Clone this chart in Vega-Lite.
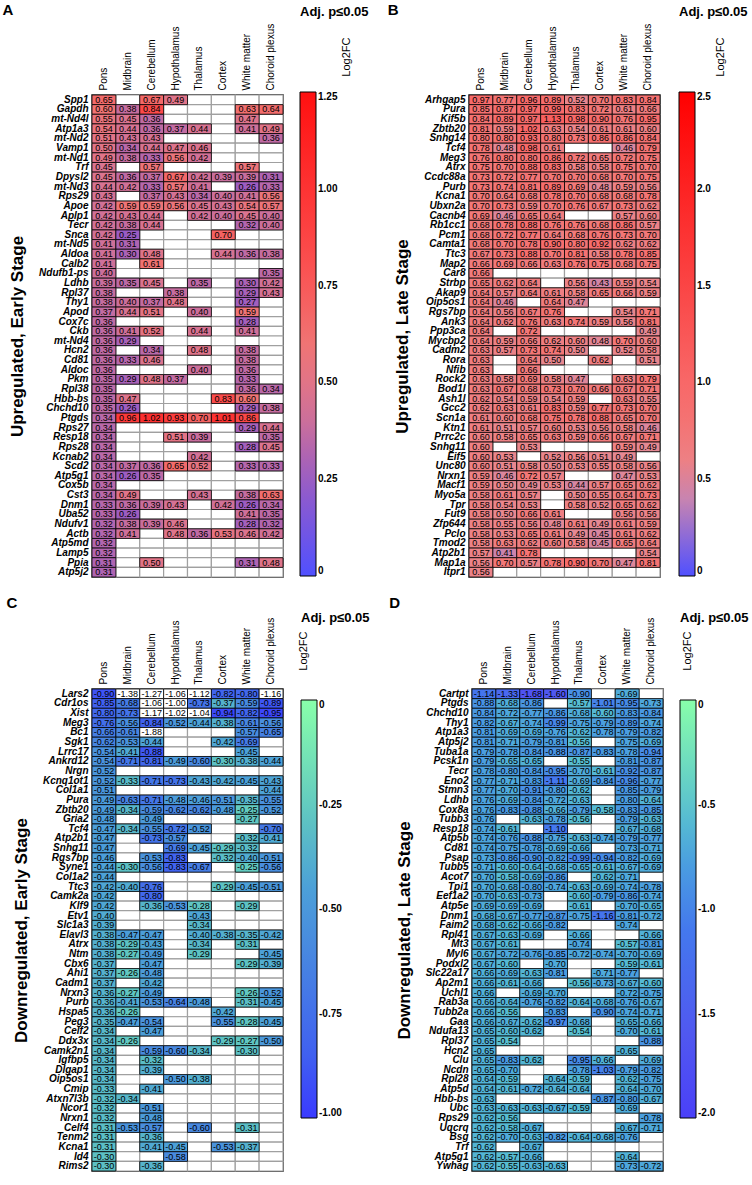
{
  "$schema": "https://vega.github.io/schema/vega-lite/v6.json",
  "padding": {"left": 1, "top": 2, "right": 0, "bottom": 0},
  "datasets": {
    "early_up": [
      {"g":"Spp1","Pons":0.65,"Cerebellum":0.67,"Hypothalamus":0.49},
      {"g":"Gapdh","Pons":0.60,"Midbrain":0.38,"Cerebellum":0.84,"White matter":0.63,"Choroid plexus":0.64},
      {"g":"mt-Nd4l","Pons":0.55,"Midbrain":0.45,"Cerebellum":0.36,"White matter":0.47},
      {"g":"Atp1a3","Pons":0.54,"Midbrain":0.44,"Cerebellum":0.36,"Hypothalamus":0.37,"Thalamus":0.44,"White matter":0.41,"Choroid plexus":0.49},
      {"g":"mt-Nd2","Pons":0.51,"Midbrain":0.43,"Cerebellum":0.43,"Choroid plexus":0.36},
      {"g":"Vamp1","Pons":0.50,"Midbrain":0.34,"Cerebellum":0.44,"Hypothalamus":0.47,"Thalamus":0.46},
      {"g":"mt-Nd1","Pons":0.49,"Midbrain":0.38,"Cerebellum":0.33,"Hypothalamus":0.56,"Thalamus":0.42},
      {"g":"Trf","Pons":0.45,"Cerebellum":0.57,"White matter":0.57},
      {"g":"Dpysl2","Pons":0.45,"Midbrain":0.36,"Cerebellum":0.37,"Hypothalamus":0.67,"Thalamus":0.42,"Cortex":0.39,"White matter":0.39,"Choroid plexus":0.31},
      {"g":"mt-Nd3","Pons":0.44,"Midbrain":0.42,"Cerebellum":0.33,"Hypothalamus":0.57,"Thalamus":0.41,"White matter":0.26,"Choroid plexus":0.33},
      {"g":"Rps29","Pons":0.43,"Cerebellum":0.37,"Hypothalamus":0.43,"Thalamus":0.34,"Cortex":0.40,"White matter":0.41,"Choroid plexus":0.56},
      {"g":"Apoe","Pons":0.42,"Midbrain":0.59,"Cerebellum":0.59,"Hypothalamus":0.56,"Thalamus":0.45,"Cortex":0.43,"White matter":0.54,"Choroid plexus":0.57},
      {"g":"Aplp1","Pons":0.42,"Midbrain":0.43,"Cerebellum":0.44,"Thalamus":0.42,"Cortex":0.40,"White matter":0.45,"Choroid plexus":0.40},
      {"g":"Tecr","Pons":0.42,"Midbrain":0.38,"Cerebellum":0.44,"White matter":0.32,"Choroid plexus":0.40},
      {"g":"Snca","Pons":0.42,"Midbrain":0.25,"Cortex":0.70},
      {"g":"mt-Nd5","Pons":0.41,"Midbrain":0.31},
      {"g":"Aldoa","Pons":0.41,"Midbrain":0.30,"Cerebellum":0.48,"Cortex":0.44,"White matter":0.36,"Choroid plexus":0.38},
      {"g":"Calb2","Pons":0.41,"Cerebellum":0.61},
      {"g":"Ndufb1-ps","Pons":0.40,"Choroid plexus":0.35},
      {"g":"Ldhb","Pons":0.39,"Midbrain":0.35,"Cerebellum":0.45,"Thalamus":0.35,"White matter":0.30,"Choroid plexus":0.42},
      {"g":"Rpl37","Pons":0.38,"Hypothalamus":0.38,"White matter":0.29,"Choroid plexus":0.43},
      {"g":"Thy1","Pons":0.38,"Midbrain":0.40,"Cerebellum":0.37,"Hypothalamus":0.48,"White matter":0.27},
      {"g":"Apod","Pons":0.37,"Midbrain":0.44,"Cerebellum":0.51,"Thalamus":0.40,"White matter":0.59},
      {"g":"Cox7c","Pons":0.36,"White matter":0.28},
      {"g":"Ckb","Pons":0.36,"Midbrain":0.41,"Cerebellum":0.52,"Thalamus":0.44,"White matter":0.41},
      {"g":"mt-Nd4","Pons":0.36,"Midbrain":0.29},
      {"g":"Hcn2","Pons":0.36,"Cerebellum":0.34,"Thalamus":0.48,"White matter":0.38},
      {"g":"Cd81","Pons":0.36,"Midbrain":0.33,"Cerebellum":0.46,"White matter":0.38},
      {"g":"Aldoc","Pons":0.36,"Thalamus":0.40,"White matter":0.36},
      {"g":"Pkm","Pons":0.35,"Midbrain":0.29,"Cerebellum":0.48,"Hypothalamus":0.37,"White matter":0.33},
      {"g":"Rpl38","Pons":0.35,"White matter":0.36,"Choroid plexus":0.34},
      {"g":"Hbb-bs","Pons":0.35,"Midbrain":0.47,"Cortex":0.83,"White matter":0.60},
      {"g":"Chchd10","Pons":0.35,"Midbrain":0.26,"White matter":0.29,"Choroid plexus":0.38},
      {"g":"Ptgds","Pons":0.34,"Midbrain":0.96,"Cerebellum":1.02,"Hypothalamus":0.93,"Thalamus":0.70,"Cortex":1.01,"White matter":0.86},
      {"g":"Rps27","Pons":0.34,"White matter":0.29,"Choroid plexus":0.44},
      {"g":"Resp18","Pons":0.34,"Hypothalamus":0.51,"Thalamus":0.39,"Choroid plexus":0.35},
      {"g":"Rps28","Pons":0.34,"White matter":0.28,"Choroid plexus":0.45},
      {"g":"Kcnab2","Pons":0.34,"Thalamus":0.42},
      {"g":"Scd2","Pons":0.34,"Midbrain":0.37,"Cerebellum":0.36,"Hypothalamus":0.65,"Thalamus":0.52,"White matter":0.33,"Choroid plexus":0.33},
      {"g":"Atp5g1","Pons":0.34,"Midbrain":0.26,"Cerebellum":0.35},
      {"g":"Cox5b","Pons":0.34},
      {"g":"Cst3","Pons":0.34,"Midbrain":0.49,"Thalamus":0.43,"White matter":0.38,"Choroid plexus":0.63},
      {"g":"Dnm1","Pons":0.33,"Midbrain":0.36,"Cerebellum":0.39,"Hypothalamus":0.43,"Cortex":0.42,"White matter":0.26,"Choroid plexus":0.34},
      {"g":"Uba52","Pons":0.33,"Midbrain":0.26,"White matter":0.41,"Choroid plexus":0.35},
      {"g":"Ndufv1","Pons":0.32,"Midbrain":0.38,"Cerebellum":0.39,"Hypothalamus":0.46,"White matter":0.28,"Choroid plexus":0.32},
      {"g":"Actb","Pons":0.32,"Midbrain":0.41,"Hypothalamus":0.48,"Thalamus":0.36,"Cortex":0.53,"White matter":0.46,"Choroid plexus":0.42},
      {"g":"Atp5md","Pons":0.32},
      {"g":"Lamp5","Pons":0.32},
      {"g":"Ppia","Pons":0.31,"Cerebellum":0.50,"White matter":0.31,"Choroid plexus":0.48},
      {"g":"Atp5j2","Pons":0.31}
    ],
    "late_up": [
      {"g":"Arhgap5","Pons":0.97,"Midbrain":0.77,"Cerebellum":0.96,"Hypothalamus":0.89,"Thalamus":0.52,"Cortex":0.70,"White matter":0.83,"Choroid plexus":0.84},
      {"g":"Pura","Pons":0.85,"Midbrain":0.87,"Cerebellum":0.97,"Hypothalamus":0.99,"Thalamus":0.83,"Cortex":0.72,"White matter":0.61,"Choroid plexus":0.66},
      {"g":"Kif5b","Pons":0.84,"Midbrain":0.89,"Cerebellum":0.97,"Hypothalamus":1.13,"Thalamus":0.98,"Cortex":0.90,"White matter":0.76,"Choroid plexus":0.95},
      {"g":"Zbtb20","Pons":0.81,"Midbrain":0.59,"Cerebellum":1.02,"Hypothalamus":0.63,"Thalamus":0.54,"Cortex":0.61,"White matter":0.61,"Choroid plexus":0.60},
      {"g":"Snhg14","Pons":0.80,"Midbrain":0.80,"Cerebellum":0.93,"Hypothalamus":0.80,"Thalamus":0.73,"Cortex":0.86,"White matter":0.86,"Choroid plexus":0.84},
      {"g":"Tcf4","Pons":0.78,"Midbrain":0.48,"Cerebellum":0.98,"Hypothalamus":0.61,"White matter":0.46,"Choroid plexus":0.79},
      {"g":"Meg3","Pons":0.76,"Midbrain":0.80,"Cerebellum":0.80,"Hypothalamus":0.86,"Thalamus":0.72,"Cortex":0.65,"White matter":0.72,"Choroid plexus":0.75},
      {"g":"Atrx","Pons":0.75,"Midbrain":0.70,"Cerebellum":0.88,"Hypothalamus":0.83,"Thalamus":0.58,"Cortex":0.58,"White matter":0.75,"Choroid plexus":0.70},
      {"g":"Ccdc88a","Pons":0.73,"Midbrain":0.72,"Cerebellum":0.77,"Hypothalamus":0.70,"Thalamus":0.70,"Cortex":0.68,"White matter":0.70,"Choroid plexus":0.75},
      {"g":"Purb","Pons":0.73,"Midbrain":0.74,"Cerebellum":0.81,"Hypothalamus":0.89,"Thalamus":0.69,"Cortex":0.48,"White matter":0.59,"Choroid plexus":0.56},
      {"g":"Kcna1","Pons":0.70,"Midbrain":0.64,"Cerebellum":0.68,"Hypothalamus":0.78,"Thalamus":0.70,"Cortex":0.68,"White matter":0.68,"Choroid plexus":0.78},
      {"g":"Ubxn2a","Pons":0.70,"Midbrain":0.73,"Cerebellum":0.59,"Hypothalamus":0.70,"Thalamus":0.76,"Cortex":0.67,"White matter":0.73,"Choroid plexus":0.62},
      {"g":"Cacnb4","Pons":0.69,"Midbrain":0.46,"Cerebellum":0.65,"Hypothalamus":0.64,"White matter":0.57,"Choroid plexus":0.60},
      {"g":"Rb1cc1","Pons":0.68,"Midbrain":0.78,"Cerebellum":0.88,"Hypothalamus":0.76,"Thalamus":0.76,"Cortex":0.68,"White matter":0.86,"Choroid plexus":0.57},
      {"g":"Pcm1","Pons":0.68,"Midbrain":0.72,"Cerebellum":0.77,"Hypothalamus":0.64,"Thalamus":0.68,"Cortex":0.76,"White matter":0.73,"Choroid plexus":0.70},
      {"g":"Camta1","Pons":0.68,"Midbrain":0.70,"Cerebellum":0.78,"Hypothalamus":0.90,"Thalamus":0.80,"Cortex":0.92,"White matter":0.62,"Choroid plexus":0.62},
      {"g":"Ttc3","Pons":0.67,"Midbrain":0.73,"Cerebellum":0.88,"Hypothalamus":0.70,"Thalamus":0.81,"Cortex":0.58,"White matter":0.78,"Choroid plexus":0.85},
      {"g":"Map2","Pons":0.66,"Midbrain":0.69,"Cerebellum":0.66,"Hypothalamus":0.63,"Thalamus":0.76,"Cortex":0.75,"White matter":0.68,"Choroid plexus":0.75},
      {"g":"Car8","Pons":0.66},
      {"g":"Strbp","Pons":0.65,"Midbrain":0.62,"Cerebellum":0.64,"Thalamus":0.56,"Cortex":0.43,"White matter":0.59,"Choroid plexus":0.54},
      {"g":"Akap9","Pons":0.64,"Midbrain":0.57,"Cerebellum":0.64,"Hypothalamus":0.61,"Thalamus":0.58,"Cortex":0.65,"White matter":0.66,"Choroid plexus":0.59},
      {"g":"Oip5os1","Pons":0.64,"Midbrain":0.46,"Hypothalamus":0.64,"Thalamus":0.47},
      {"g":"Rgs7bp","Pons":0.64,"Midbrain":0.56,"Cerebellum":0.67,"Hypothalamus":0.76,"White matter":0.54,"Choroid plexus":0.71},
      {"g":"Ank3","Pons":0.64,"Midbrain":0.62,"Cerebellum":0.76,"Hypothalamus":0.63,"Thalamus":0.74,"Cortex":0.59,"White matter":0.56,"Choroid plexus":0.81},
      {"g":"Ppp3ca","Pons":0.64,"Cerebellum":0.72,"Choroid plexus":0.49},
      {"g":"Mycbp2","Pons":0.64,"Midbrain":0.59,"Cerebellum":0.66,"Hypothalamus":0.62,"Thalamus":0.60,"Cortex":0.48,"White matter":0.70,"Choroid plexus":0.60},
      {"g":"Cadm2","Pons":0.63,"Midbrain":0.57,"Cerebellum":0.73,"Hypothalamus":0.74,"Thalamus":0.50,"White matter":0.52,"Choroid plexus":0.58},
      {"g":"Rora","Pons":0.63,"Cerebellum":0.64,"Hypothalamus":0.50,"Cortex":0.62,"Choroid plexus":0.51},
      {"g":"Nfib","Pons":0.63,"Cerebellum":0.66},
      {"g":"Rock2","Pons":0.63,"Midbrain":0.58,"Cerebellum":0.69,"Hypothalamus":0.58,"Thalamus":0.47,"White matter":0.63,"Choroid plexus":0.79},
      {"g":"Bod1l","Pons":0.63,"Midbrain":0.67,"Cerebellum":0.68,"Hypothalamus":0.73,"Thalamus":0.70,"Cortex":0.66,"White matter":0.67,"Choroid plexus":0.71},
      {"g":"Ash1l","Pons":0.62,"Midbrain":0.54,"Cerebellum":0.59,"Hypothalamus":0.54,"Thalamus":0.59,"White matter":0.63,"Choroid plexus":0.55},
      {"g":"Gcc2","Pons":0.62,"Midbrain":0.63,"Cerebellum":0.61,"Hypothalamus":0.83,"Thalamus":0.59,"Cortex":0.77,"White matter":0.73,"Choroid plexus":0.70},
      {"g":"Scn1a","Pons":0.61,"Midbrain":0.60,"Cerebellum":0.68,"Hypothalamus":0.75,"Thalamus":0.78,"Cortex":0.88,"White matter":0.65,"Choroid plexus":0.70},
      {"g":"Ktn1","Pons":0.61,"Midbrain":0.51,"Cerebellum":0.57,"Hypothalamus":0.60,"Thalamus":0.53,"Cortex":0.56,"White matter":0.58,"Choroid plexus":0.46},
      {"g":"Prrc2c","Pons":0.60,"Midbrain":0.58,"Cerebellum":0.65,"Hypothalamus":0.63,"Thalamus":0.59,"Cortex":0.66,"White matter":0.67,"Choroid plexus":0.71},
      {"g":"Snhg11","Pons":0.60,"Cerebellum":0.53,"White matter":0.59,"Choroid plexus":0.49},
      {"g":"Eif5","Pons":0.60,"Midbrain":0.53,"Hypothalamus":0.52,"Thalamus":0.56,"Cortex":0.51,"White matter":0.49},
      {"g":"Unc80","Pons":0.60,"Midbrain":0.51,"Cerebellum":0.58,"Hypothalamus":0.50,"Thalamus":0.53,"Cortex":0.55,"White matter":0.58,"Choroid plexus":0.56},
      {"g":"Nrxn1","Pons":0.59,"Midbrain":0.46,"Cerebellum":0.72,"Hypothalamus":0.57,"White matter":0.47,"Choroid plexus":0.53},
      {"g":"Macf1","Pons":0.59,"Midbrain":0.50,"Cerebellum":0.49,"Hypothalamus":0.53,"Thalamus":0.44,"Cortex":0.57,"White matter":0.65,"Choroid plexus":0.62},
      {"g":"Myo5a","Pons":0.58,"Midbrain":0.61,"Cerebellum":0.57,"Thalamus":0.50,"Cortex":0.55,"White matter":0.64,"Choroid plexus":0.73},
      {"g":"Tpr","Pons":0.58,"Midbrain":0.54,"Cerebellum":0.53,"Thalamus":0.58,"Cortex":0.52,"White matter":0.65,"Choroid plexus":0.62},
      {"g":"Fut9","Pons":0.58,"Midbrain":0.50,"Cerebellum":0.66,"Hypothalamus":0.61,"White matter":0.56,"Choroid plexus":0.56},
      {"g":"Zfp644","Pons":0.58,"Midbrain":0.55,"Cerebellum":0.56,"Hypothalamus":0.48,"Thalamus":0.61,"Cortex":0.49,"White matter":0.61,"Choroid plexus":0.59},
      {"g":"Pclo","Pons":0.58,"Midbrain":0.53,"Cerebellum":0.65,"Hypothalamus":0.61,"Thalamus":0.49,"Cortex":0.45,"White matter":0.61,"Choroid plexus":0.62},
      {"g":"Tmod2","Pons":0.58,"Midbrain":0.63,"Cerebellum":0.62,"Hypothalamus":0.60,"Thalamus":0.58,"Cortex":0.45,"White matter":0.65,"Choroid plexus":0.64},
      {"g":"Atp2b1","Pons":0.57,"Midbrain":0.41,"Cerebellum":0.78,"Choroid plexus":0.54},
      {"g":"Map1a","Pons":0.56,"Midbrain":0.70,"Cerebellum":0.57,"Hypothalamus":0.78,"Thalamus":0.90,"Cortex":0.70,"White matter":0.47,"Choroid plexus":0.81},
      {"g":"Itpr1","Pons":0.56}
    ],
    "early_down": [
      {"g":"Lars2","Pons":-0.90,"Midbrain":-1.38,"Cerebellum":-1.27,"Hypothalamus":-1.06,"Thalamus":-1.12,"Cortex":-0.82,"White matter":-0.80,"Choroid plexus":-1.16},
      {"g":"Cdr1os","Pons":-0.85,"Midbrain":-0.68,"Cerebellum":-1.06,"Hypothalamus":-1.00,"Thalamus":-0.73,"Cortex":-0.37,"White matter":-0.59,"Choroid plexus":-0.89},
      {"g":"Xist","Pons":-0.80,"Midbrain":-0.73,"Cerebellum":-1.17,"Hypothalamus":-1.02,"Thalamus":-1.04,"Cortex":-0.94,"White matter":-0.82,"Choroid plexus":-0.95},
      {"g":"Meg3","Pons":-0.76,"Midbrain":-0.56,"Cerebellum":-0.84,"Hypothalamus":-0.52,"Thalamus":-0.44,"Cortex":-0.38,"White matter":-0.61,"Choroid plexus":-0.56},
      {"g":"Bc1","Pons":-0.66,"Midbrain":-0.61,"Cerebellum":-1.88,"White matter":-0.57,"Choroid plexus":-0.65},
      {"g":"Sgk1","Pons":-0.62,"Midbrain":-0.53,"Cerebellum":-0.44,"Cortex":-0.42,"White matter":-0.69},
      {"g":"Lrrc17","Pons":-0.54,"Midbrain":-0.41,"Cerebellum":-0.88,"White matter":-0.45},
      {"g":"Ankrd12","Pons":-0.54,"Midbrain":-0.71,"Cerebellum":-0.81,"Hypothalamus":-0.49,"Thalamus":-0.60,"Cortex":-0.30,"White matter":-0.38,"Choroid plexus":-0.44},
      {"g":"Nrgn","Pons":-0.52},
      {"g":"Kcnq1ot1","Pons":-0.52,"Midbrain":-0.33,"Cerebellum":-0.71,"Hypothalamus":-0.73,"Thalamus":-0.43,"Cortex":-0.42,"White matter":-0.45,"Choroid plexus":-0.43},
      {"g":"Col1a1","Pons":-0.51,"Choroid plexus":-0.44},
      {"g":"Pura","Pons":-0.49,"Midbrain":-0.63,"Cerebellum":-0.71,"Hypothalamus":-0.48,"Thalamus":-0.46,"Cortex":-0.51,"White matter":-0.35,"Choroid plexus":-0.55},
      {"g":"Zbtb20","Pons":-0.49,"Midbrain":-0.34,"Cerebellum":-0.59,"Hypothalamus":-0.62,"Thalamus":-0.62,"Cortex":-0.48,"White matter":-0.25,"Choroid plexus":-0.52},
      {"g":"Gria2","Pons":-0.48,"Cerebellum":-0.49,"White matter":-0.27},
      {"g":"Tcf4","Pons":-0.47,"Midbrain":-0.34,"Cerebellum":-0.55,"Hypothalamus":-0.72,"Thalamus":-0.52,"Choroid plexus":-0.70},
      {"g":"Atp2b1","Pons":-0.47,"Cerebellum":-0.73,"Hypothalamus":-0.57,"White matter":-0.32,"Choroid plexus":-0.41},
      {"g":"Snhg11","Pons":-0.47,"Hypothalamus":-0.69,"Thalamus":-0.45,"Cortex":-0.29,"White matter":-0.32},
      {"g":"Rgs7bp","Pons":-0.46,"Cerebellum":-0.53,"Hypothalamus":-0.83,"Cortex":-0.32,"White matter":-0.40,"Choroid plexus":-0.51},
      {"g":"Syne1","Pons":-0.44,"Midbrain":-0.30,"Cerebellum":-0.56,"Hypothalamus":-0.83,"Thalamus":-0.67,"White matter":-0.25,"Choroid plexus":-0.56},
      {"g":"Col1a2","Pons":-0.44},
      {"g":"Ttc3","Pons":-0.42,"Midbrain":-0.40,"Cerebellum":-0.76,"Cortex":-0.29,"White matter":-0.45,"Choroid plexus":-0.51},
      {"g":"Camk2a","Pons":-0.42,"Cerebellum":-0.80},
      {"g":"Klf9","Pons":-0.42,"Cerebellum":-0.36,"Hypothalamus":-0.53,"Thalamus":-0.28,"White matter":-0.29},
      {"g":"Etv1","Pons":-0.40,"Thalamus":-0.43},
      {"g":"Slc1a3","Pons":-0.39,"Thalamus":-0.34},
      {"g":"Elavl3","Pons":-0.38,"Midbrain":-0.47,"Cerebellum":-0.47,"Thalamus":-0.40,"Cortex":-0.38,"White matter":-0.35,"Choroid plexus":-0.42},
      {"g":"Atrx","Pons":-0.38,"Midbrain":-0.29,"Cerebellum":-0.43,"Thalamus":-0.34,"White matter":-0.31},
      {"g":"Ntm","Pons":-0.38,"Midbrain":-0.27,"Cerebellum":-0.49,"Thalamus":-0.29,"Choroid plexus":-0.45},
      {"g":"Cbx6","Pons":-0.37,"Cerebellum":-0.47,"White matter":-0.29,"Choroid plexus":-0.39},
      {"g":"Ahi1","Pons":-0.37,"Midbrain":-0.26,"Cerebellum":-0.48},
      {"g":"Cadm1","Pons":-0.37,"Cerebellum":-0.42},
      {"g":"Nrxn3","Pons":-0.36,"Midbrain":-0.27,"Cerebellum":-0.49,"White matter":-0.26,"Choroid plexus":-0.52},
      {"g":"Purb","Pons":-0.36,"Midbrain":-0.41,"Cerebellum":-0.53,"Hypothalamus":-0.64,"Thalamus":-0.48,"White matter":-0.31,"Choroid plexus":-0.45},
      {"g":"Hspa5","Pons":-0.36,"Midbrain":-0.26,"Cortex":-0.42},
      {"g":"Peg3","Pons":-0.35,"Midbrain":-0.47,"Cerebellum":-0.54,"Cortex":-0.55,"White matter":-0.28,"Choroid plexus":-0.45},
      {"g":"Celf2","Pons":-0.34,"Cerebellum":-0.47},
      {"g":"Ddx3x","Pons":-0.34,"Midbrain":-0.26,"Cortex":-0.29,"White matter":-0.27,"Choroid plexus":-0.50},
      {"g":"Camk2n1","Pons":-0.34,"Cerebellum":-0.59,"Hypothalamus":-0.60,"Thalamus":-0.34,"White matter":-0.30},
      {"g":"Igfbp5","Pons":-0.34,"Cerebellum":-0.32},
      {"g":"Dlgap1","Pons":-0.34,"Cerebellum":-0.39},
      {"g":"Oip5os1","Pons":-0.34,"Hypothalamus":-0.50,"Thalamus":-0.38},
      {"g":"Cmip","Pons":-0.33,"Cerebellum":-0.41},
      {"g":"Atxn7l3b","Pons":-0.32,"Midbrain":-0.34},
      {"g":"Ncor1","Pons":-0.32,"Cerebellum":-0.51},
      {"g":"Nrxn1","Pons":-0.32,"Cerebellum":-0.48},
      {"g":"Celf4","Pons":-0.31,"Midbrain":-0.53,"Cerebellum":-0.57,"Thalamus":-0.60,"White matter":-0.31},
      {"g":"Tenm2","Pons":-0.31,"Cerebellum":-0.36},
      {"g":"Kcna1","Pons":-0.31,"Cerebellum":-0.41,"Hypothalamus":-0.45,"Cortex":-0.53,"White matter":-0.37},
      {"g":"Id4","Pons":-0.30,"Hypothalamus":-0.58},
      {"g":"Rims2","Pons":-0.30,"Cerebellum":-0.36}
    ],
    "late_down": [
      {"g":"Cartpt","Pons":-1.14,"Midbrain":-1.33,"Cerebellum":-1.68,"Hypothalamus":-1.60,"Thalamus":-0.90,"White matter":-0.69},
      {"g":"Ptgds","Pons":-0.88,"Midbrain":-0.68,"Cerebellum":-0.86,"Thalamus":-0.57,"Cortex":-1.01,"White matter":-0.95,"Choroid plexus":-0.73},
      {"g":"Chchd10","Pons":-0.84,"Midbrain":-0.72,"Cerebellum":-0.77,"Hypothalamus":-0.86,"Thalamus":-0.68,"Cortex":-0.60,"White matter":-0.83,"Choroid plexus":-0.84},
      {"g":"Thy1","Pons":-0.82,"Midbrain":-0.67,"Cerebellum":-0.74,"Hypothalamus":-0.99,"Thalamus":-0.75,"Cortex":-0.79,"White matter":-0.89,"Choroid plexus":-0.74},
      {"g":"Atp1a3","Pons":-0.81,"Midbrain":-0.69,"Cerebellum":-0.69,"Hypothalamus":-0.76,"Thalamus":-0.62,"Cortex":-0.78,"White matter":-0.79,"Choroid plexus":-0.82},
      {"g":"Atp5j2","Pons":-0.81,"Midbrain":-0.71,"Cerebellum":-0.79,"Hypothalamus":-0.81,"Thalamus":-0.56,"White matter":-0.75,"Choroid plexus":-0.69},
      {"g":"Tuba1a","Pons":-0.79,"Midbrain":-0.78,"Cerebellum":-0.84,"Hypothalamus":-0.88,"Thalamus":-0.87,"Cortex":-0.83,"White matter":-0.78,"Choroid plexus":-0.94},
      {"g":"Pcsk1n","Pons":-0.79,"Midbrain":-0.65,"Cerebellum":-0.65,"Thalamus":-0.55,"White matter":-0.81,"Choroid plexus":-0.87},
      {"g":"Tecr","Pons":-0.78,"Midbrain":-0.80,"Cerebellum":-0.84,"Hypothalamus":-0.95,"Thalamus":-0.70,"Cortex":-0.61,"White matter":-0.92,"Choroid plexus":-0.87},
      {"g":"Eno2","Pons":-0.77,"Midbrain":-0.71,"Cerebellum":-0.83,"Hypothalamus":-1.11,"Thalamus":-0.69,"Cortex":-0.84,"White matter":-0.96,"Choroid plexus":-0.77},
      {"g":"Stmn3","Pons":-0.77,"Midbrain":-0.70,"Cerebellum":-0.91,"Hypothalamus":-0.80,"Thalamus":-0.62,"White matter":-0.85,"Choroid plexus":-0.79},
      {"g":"Ldhb","Pons":-0.76,"Midbrain":-0.69,"Cerebellum":-0.84,"Hypothalamus":-0.72,"Thalamus":-0.63,"White matter":-0.80,"Choroid plexus":-0.64},
      {"g":"Cox8a","Pons":-0.76,"Midbrain":-0.83,"Cerebellum":-0.88,"Hypothalamus":-0.66,"Thalamus":-0.79,"Cortex":-0.58,"White matter":-0.83,"Choroid plexus":-0.85},
      {"g":"Tubb3","Pons":-0.76,"Cerebellum":-0.63,"Hypothalamus":-0.78,"Thalamus":-0.56,"White matter":-0.79,"Choroid plexus":-0.63},
      {"g":"Resp18","Pons":-0.74,"Midbrain":-0.61,"Hypothalamus":-1.10,"White matter":-0.67,"Choroid plexus":-0.68},
      {"g":"Atp5b","Pons":-0.74,"Midbrain":-0.76,"Cerebellum":-0.88,"Hypothalamus":-0.75,"Thalamus":-0.63,"Cortex":-0.74,"White matter":-0.79,"Choroid plexus":-0.77},
      {"g":"Cd81","Pons":-0.74,"Midbrain":-0.75,"Cerebellum":-0.78,"Hypothalamus":-0.69,"Thalamus":-0.66,"White matter":-0.73,"Choroid plexus":-0.71},
      {"g":"Psap","Pons":-0.73,"Midbrain":-0.86,"Cerebellum":-0.90,"Hypothalamus":-0.82,"Thalamus":-0.99,"Cortex":-0.94,"White matter":-0.82,"Choroid plexus":-0.69},
      {"g":"Tubb5","Pons":-0.71,"Midbrain":-0.60,"Cerebellum":-0.64,"Hypothalamus":-0.68,"Thalamus":-0.65,"Cortex":-0.61,"White matter":-0.67,"Choroid plexus":-0.69},
      {"g":"Acot7","Pons":-0.70,"Midbrain":-0.58,"Cerebellum":-0.69,"Hypothalamus":-0.86,"Cortex":-0.62,"White matter":-0.71},
      {"g":"Tpi1","Pons":-0.70,"Midbrain":-0.68,"Cerebellum":-0.80,"Hypothalamus":-0.74,"Thalamus":-0.63,"Cortex":-0.69,"White matter":-0.74,"Choroid plexus":-0.78},
      {"g":"Eef1a2","Pons":-0.70,"Midbrain":-0.63,"Cerebellum":-0.73,"Thalamus":-0.60,"Cortex":-0.79,"White matter":-0.86,"Choroid plexus":-0.74},
      {"g":"Atp5e","Pons":-0.69,"Midbrain":-0.69,"Cerebellum":-0.69,"Thalamus":-0.61,"White matter":-0.70,"Choroid plexus":-0.65},
      {"g":"Dnm1","Pons":-0.68,"Midbrain":-0.67,"Cerebellum":-0.77,"Hypothalamus":-0.87,"Thalamus":-0.75,"Cortex":-1.16,"White matter":-0.81,"Choroid plexus":-0.72},
      {"g":"Faim2","Pons":-0.68,"Midbrain":-0.62,"Cerebellum":-0.66,"Hypothalamus":-0.82,"White matter":-0.74},
      {"g":"Rpl41","Pons":-0.67,"Midbrain":-0.63,"Cerebellum":-0.69,"Thalamus":-0.66,"Choroid plexus":-0.66},
      {"g":"Mt3","Pons":-0.67,"Midbrain":-0.61,"Thalamus":-0.74,"White matter":-0.57,"Choroid plexus":-0.81},
      {"g":"Myl6","Pons":-0.67,"Midbrain":-0.72,"Cerebellum":-0.76,"Hypothalamus":-0.85,"Thalamus":-0.72,"Cortex":-0.74,"White matter":-0.70,"Choroid plexus":-0.69},
      {"g":"Podxl2","Pons":-0.67,"Midbrain":-0.60,"Hypothalamus":-0.70,"White matter":-0.59,"Choroid plexus":-0.61},
      {"g":"Slc22a17","Pons":-0.66,"Midbrain":-0.69,"Cerebellum":-0.63,"Hypothalamus":-0.81,"Cortex":-0.71,"White matter":-0.77},
      {"g":"Ap2m1","Pons":-0.66,"Midbrain":-0.61,"Cerebellum":-0.66,"Thalamus":-0.56,"Cortex":-0.73,"White matter":-0.67,"Choroid plexus":-0.60},
      {"g":"Uchl1","Pons":-0.66,"Cerebellum":-0.69,"Hypothalamus":-0.70,"White matter":-0.72,"Choroid plexus":-0.75},
      {"g":"Rab3a","Pons":-0.66,"Midbrain":-0.64,"Cerebellum":-0.76,"Hypothalamus":-0.82,"Thalamus":-0.64,"Cortex":-0.68,"White matter":-0.76,"Choroid plexus":-0.67},
      {"g":"Tubb2a","Pons":-0.66,"Midbrain":-0.56,"Hypothalamus":-0.83,"Cortex":-0.90,"White matter":-0.74,"Choroid plexus":-0.71},
      {"g":"Gaa","Pons":-0.66,"Midbrain":-0.67,"Cerebellum":-0.62,"Hypothalamus":-0.97,"Thalamus":-0.68,"White matter":-0.65,"Choroid plexus":-0.66},
      {"g":"Ndufa13","Pons":-0.65,"Midbrain":-0.60,"Cerebellum":-0.62,"Thalamus":-0.54,"White matter":-0.70,"Choroid plexus":-0.61},
      {"g":"Rpl37","Pons":-0.65,"Midbrain":-0.54,"Choroid plexus":-0.88},
      {"g":"Hcn2","Pons":-0.65,"White matter":-0.65},
      {"g":"Clu","Pons":-0.65,"Midbrain":-0.83,"Cerebellum":-0.62,"Thalamus":-0.95,"Cortex":-0.66,"Choroid plexus":-0.69},
      {"g":"Ncdn","Pons":-0.65,"Midbrain":-0.70,"Thalamus":-0.78,"Cortex":-1.03,"White matter":-0.79,"Choroid plexus":-0.82},
      {"g":"Rpl28","Pons":-0.64,"Midbrain":-0.59,"Hypothalamus":-0.64,"Thalamus":-0.59,"White matter":-0.62,"Choroid plexus":-0.75},
      {"g":"Atp5d","Pons":-0.64,"Midbrain":-0.61,"Cerebellum":-0.72,"Hypothalamus":-0.64,"Thalamus":-0.64,"White matter":-0.64,"Choroid plexus":-0.70},
      {"g":"Hbb-bs","Pons":-0.63,"Cortex":-0.87,"White matter":-0.80,"Choroid plexus":-0.67},
      {"g":"Ubc","Pons":-0.63,"Midbrain":-0.63,"Cerebellum":-0.63,"Hypothalamus":-0.67,"Thalamus":-0.59,"White matter":-0.69},
      {"g":"Rps29","Pons":-0.62,"Midbrain":-0.56,"Choroid plexus":-0.78},
      {"g":"Uqcrq","Pons":-0.62,"Midbrain":-0.58,"Cerebellum":-0.67,"White matter":-0.67,"Choroid plexus":-0.71},
      {"g":"Bsg","Pons":-0.62,"Midbrain":-0.70,"Cerebellum":-0.63,"Hypothalamus":-0.82,"Thalamus":-0.64,"Cortex":-0.68,"White matter":-0.76},
      {"g":"Trf","Pons":-0.62,"Cerebellum":-0.67},
      {"g":"Atp5g1","Pons":-0.62,"Midbrain":-0.57,"Cerebellum":-0.66,"White matter":-0.64},
      {"g":"Ywhag","Pons":-0.62,"Midbrain":-0.55,"Cerebellum":-0.63,"Hypothalamus":-0.63,"White matter":-0.73,"Choroid plexus":-0.72}
    ]
  },
  "vconcat": [
    {
      "hconcat": [
        {
          "title": {"text": "A", "anchor": "start", "frame": "bounds", "fontSize": 15, "fontWeight": "bold", "dx": -6, "dy": 12, "offset": 0},
          "width": 191, "height": 482,
          "data": {"name": "early_up"},
          "transform": [{"fold": ["Pons","Midbrain","Cerebellum","Hypothalamus","Thalamus","Cortex","White matter","Choroid plexus"], "as": ["region", "v"]}],
          "encoding": {
            "x": {"field": "region", "type": "nominal", "sort": ["Pons","Midbrain","Cerebellum","Hypothalamus","Thalamus","Cortex","White matter","Choroid plexus"], "scale": {"paddingInner": 0, "paddingOuter": 0},
                  "axis": {"orient": "top", "title": "Log2FC", "titleX": 248, "titleY": -58}},
            "y": {"field": "g", "type": "nominal", "sort": null, "scale": {"paddingInner": 0, "paddingOuter": 0},
                  "axis": {"title": "Upregulated, Early Stage"}}
          },
          "layer": [
            {"mark": {"type": "rect", "fill": "white", "stroke": "#a0a0a0", "strokeWidth": 1.2}},
            {"transform": [{"filter": "isValid(datum.v)"}],
             "mark": {"type": "rect", "stroke": "black", "strokeWidth": 0.8},
             "encoding": {"color": {"field": "v", "type": "quantitative",
               "scale": {"domain": [0, 0.25, 0.35, 0.45, 0.6, 0.85, 1.25], "range": ["#5050ff", "#9a5cc4", "#bc6aa6", "#da7490", "#f07474", "#fc4848", "#ff1010"], "interpolate": "rgb"},
               "legend": {"title": "Adj. p≤0.05", "orient": "none", "legendX": 208, "legendY": -89, "titlePadding": 73, "gradientLength": 484, "values": [0, 0.25, 0.5, 0.75, 1, 1.25],
                          "labelExpr": "datum.value === 0 ? '0' : format(datum.value, '.2f')"}}}},
            {"transform": [{"filter": "isValid(datum.v)"}],
             "mark": {"type": "text", "fontSize": 9, "color": "black"},
             "encoding": {"text": {"field": "v", "type": "quantitative", "format": ".2f"}}}
          ]
        },
        {
          "title": {"text": "B", "anchor": "start", "frame": "bounds", "fontSize": 15, "fontWeight": "bold", "dx": -6, "dy": 12, "offset": 0},
          "width": 191, "height": 482,
          "data": {"name": "late_up"},
          "transform": [{"fold": ["Pons","Midbrain","Cerebellum","Hypothalamus","Thalamus","Cortex","White matter","Choroid plexus"], "as": ["region", "v"]}],
          "encoding": {
            "x": {"field": "region", "type": "nominal", "sort": ["Pons","Midbrain","Cerebellum","Hypothalamus","Thalamus","Cortex","White matter","Choroid plexus"], "scale": {"paddingInner": 0, "paddingOuter": 0},
                  "axis": {"orient": "top", "title": "Log2FC", "titleX": 245, "titleY": -58}},
            "y": {"field": "g", "type": "nominal", "sort": null, "scale": {"paddingInner": 0, "paddingOuter": 0},
                  "axis": {"title": "Upregulated, Late Stage"}}
          },
          "layer": [
            {"mark": {"type": "rect", "fill": "white", "stroke": "#a0a0a0", "strokeWidth": 1.2}},
            {"transform": [{"filter": "isValid(datum.v)"}],
             "mark": {"type": "rect", "stroke": "black", "strokeWidth": 0.8},
             "encoding": {"color": {"field": "v", "type": "quantitative",
               "scale": {"domain": [0, 0.4, 0.5, 0.7, 1.0, 2.5], "range": ["#5050ff", "#c884b0", "#e88890", "#f27878", "#f86868", "#ff0000"], "interpolate": "rgb"},
               "legend": {"title": "Adj. p≤0.05", "orient": "none", "legendX": 210, "legendY": -89, "titlePadding": 73, "gradientLength": 484, "values": [0, 0.5, 1, 1.5, 2, 2.5],
                          "labelExpr": "datum.value === 0 ? '0' : format(datum.value, '.1f')"}}}},
            {"transform": [{"filter": "isValid(datum.v)"}],
             "mark": {"type": "text", "fontSize": 9, "color": "black"},
             "encoding": {"text": {"field": "v", "type": "quantitative", "format": ".2f"}}}
          ]
        }
      ],
      "spacing": 17,
      "resolve": {"scale": {"color": "independent", "x": "independent", "y": "independent"}, "legend": {"color": "independent"}}
    },
    {
      "hconcat": [
        {
          "title": {"text": "C", "anchor": "start", "frame": "bounds", "fontSize": 15, "fontWeight": "bold", "dx": -6, "dy": -1, "offset": 0},
          "width": 191, "height": 482,
          "data": {"name": "early_down"},
          "transform": [{"fold": ["Pons","Midbrain","Cerebellum","Hypothalamus","Thalamus","Cortex","White matter","Choroid plexus"], "as": ["region", "v"]}],
          "encoding": {
            "x": {"field": "region", "type": "nominal", "sort": ["Pons","Midbrain","Cerebellum","Hypothalamus","Thalamus","Cortex","White matter","Choroid plexus"], "scale": {"paddingInner": 0, "paddingOuter": 0},
                  "axis": {"orient": "top", "title": "Log2FC", "titleX": 205, "titleY": -58}},
            "y": {"field": "g", "type": "nominal", "sort": null, "scale": {"paddingInner": 0, "paddingOuter": 0},
                  "axis": {"title": "Downregulated, Early Stage"}}
          },
          "layer": [
            {"mark": {"type": "rect", "fill": "white", "stroke": "#a0a0a0", "strokeWidth": 1.2}},
            {"transform": [{"filter": "isValid(datum.v)"}],
             "mark": {"type": "rect", "stroke": "black", "strokeWidth": 0.8},
             "encoding": {"color": {"condition": {"test": "datum.v <= -1", "value": "white"}, "field": "v", "type": "quantitative",
               "scale": {"domain": [-1, -0.85, -0.6, -0.45, -0.3, 0], "range": ["#3a3aff", "#4060f0", "#4888e0", "#4ca0d8", "#5cc0c4", "#88ffaa"], "interpolate": "rgb"},
               "legend": {"title": "Adj. p≤0.05", "orient": "none", "legendX": 209, "legendY": -77, "titlePadding": 75, "gradientLength": 418, "values": [-1, -0.75, -0.5, -0.25, 0],
                          "labelExpr": "datum.value === 0 ? '0' : format(datum.value, '.2f')"}}}},
            {"transform": [{"filter": "isValid(datum.v)"}],
             "mark": {"type": "text", "fontSize": 9, "color": "black"},
             "encoding": {"text": {"field": "v", "type": "quantitative", "format": ".2f"}}}
          ]
        },
        {
          "title": {"text": "D", "anchor": "start", "frame": "bounds", "fontSize": 15, "fontWeight": "bold", "dx": -6, "dy": -1, "offset": 0},
          "width": 191, "height": 482,
          "data": {"name": "late_down"},
          "transform": [{"fold": ["Pons","Midbrain","Cerebellum","Hypothalamus","Thalamus","Cortex","White matter","Choroid plexus"], "as": ["region", "v"]}],
          "encoding": {
            "x": {"field": "region", "type": "nominal", "sort": ["Pons","Midbrain","Cerebellum","Hypothalamus","Thalamus","Cortex","White matter","Choroid plexus"], "scale": {"paddingInner": 0, "paddingOuter": 0},
                  "axis": {"orient": "top", "title": "Log2FC", "titleX": 209, "titleY": -58}},
            "y": {"field": "g", "type": "nominal", "sort": null, "scale": {"paddingInner": 0, "paddingOuter": 0},
                  "axis": {"title": "Downregulated, Late Stage"}}
          },
          "layer": [
            {"mark": {"type": "rect", "fill": "white", "stroke": "#a0a0a0", "strokeWidth": 1.2}},
            {"transform": [{"filter": "isValid(datum.v)"}],
             "mark": {"type": "rect", "stroke": "black", "strokeWidth": 0.8},
             "encoding": {"color": {"field": "v", "type": "quantitative",
               "scale": {"domain": [-2, -1.6, -1.1, -0.8, -0.6, 0], "range": ["#4a40f8", "#5058f0", "#4478ee", "#4a9ce0", "#54b8d4", "#88ffaa"], "interpolate": "rgb"},
               "legend": {"title": "Adj. p≤0.05", "orient": "none", "legendX": 208, "legendY": -77, "titlePadding": 75, "gradientLength": 418, "values": [-2, -1.5, -1, -0.5, 0],
                          "labelExpr": "datum.value === 0 ? '0' : format(datum.value, '.1f')"}}}},
            {"transform": [{"filter": "isValid(datum.v)"}],
             "mark": {"type": "text", "fontSize": 9, "color": "black"},
             "encoding": {"text": {"field": "v", "type": "quantitative", "format": ".2f"}}}
          ]
        }
      ],
      "spacing": 17,
      "resolve": {"scale": {"color": "independent", "x": "independent", "y": "independent"}, "legend": {"color": "independent"}}
    }
  ],
  "spacing": 16,
  "resolve": {"scale": {"color": "independent", "x": "independent", "y": "independent"}, "legend": {"color": "independent"}},
  "config": {
    "font": "Liberation Sans",
    "locale": {"number": {"decimal": ".", "thousands": ",", "grouping": [3], "currency": ["$", ""], "minus": "-"}},
    "view": {"stroke": "black", "strokeWidth": 1.5},
    "axis": {"domain": false, "ticks": false, "grid": false, "labelColor": "black", "titleColor": "black", "labelFont": "Liberation Sans", "titleFont": "Liberation Sans"},
    "axisX": {"labelAngle": 270, "labelAlign": "left", "labelBaseline": "middle", "labelFontSize": 10, "labelPadding": 5,
              "titleFontSize": 11, "titleFontWeight": "normal", "titleAngle": 270, "titleAlign": "right", "titleBaseline": "top", "titleAnchor": "start"},
    "axisY": {"labelFontStyle": "italic", "labelFontWeight": "bold", "labelFontSize": 10, "labelPadding": 4,
              "titleFontSize": 17, "titleFontWeight": "bold", "titlePadding": 12},
    "legend": {"padding": 0, "direction": "vertical", "gradientThickness": 16, "gradientStrokeColor": "black", "gradientStrokeWidth": 1,
               "labelFontSize": 10, "labelFontWeight": "bold", "labelColor": "black", "labelOffset": 5, "labelOverlap": false,
               "titleFontSize": 13, "titleFontWeight": "bold", "titleColor": "black", "titleOrient": "top", "titleAnchor": "start", "titleAlign": "left", "titleBaseline": "top", "titleLimit": 300},
    "title": {"color": "black", "font": "Liberation Sans"}
  }
}
